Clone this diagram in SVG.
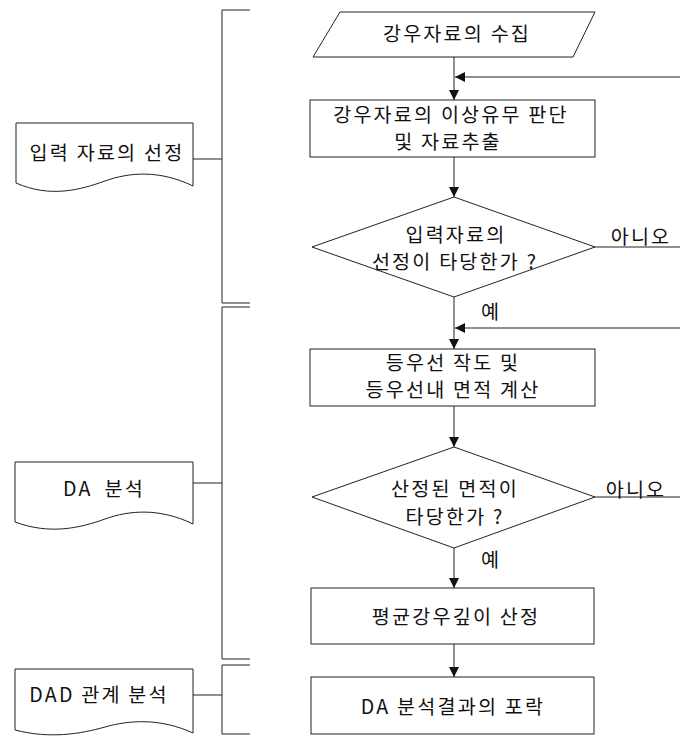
<svg xmlns="http://www.w3.org/2000/svg" width="680" height="738" viewBox="0 0 680 738">
<style>
.s{fill:#fff;stroke:#222;stroke-width:1}
.l{fill:none;stroke:#222;stroke-width:1}
.t{font-family:"Noto Sans CJK KR","Noto Sans",sans-serif;font-size:19.6px;fill:#111;text-anchor:middle;letter-spacing:2.2px}
</style>
<defs>
<marker id="ah" markerWidth="10" markerHeight="10" refX="10" refY="5" orient="auto" markerUnits="userSpaceOnUse">
<path d="M0,0 L10,5 L0,10 Z" fill="#111"/>
</marker>
</defs>
<rect width="680" height="738" fill="#fff"/>
<g id="connectors">
<line class="l" x1="454" y1="57" x2="454" y2="100" marker-end="url(#ah)"/>
<line class="l" x1="680" y1="77" x2="455" y2="77" marker-end="url(#ah)"/>
<line class="l" x1="454" y1="157" x2="454" y2="197" marker-end="url(#ah)"/>
<line class="l" x1="595" y1="247" x2="680" y2="247"/>
<line class="l" x1="454" y1="297" x2="454" y2="349" marker-end="url(#ah)"/>
<line class="l" x1="680" y1="328" x2="455" y2="328" marker-end="url(#ah)"/>
<line class="l" x1="454" y1="406" x2="454" y2="447" marker-end="url(#ah)"/>
<line class="l" x1="595" y1="497" x2="680" y2="497"/>
<line class="l" x1="454" y1="548" x2="454" y2="588" marker-end="url(#ah)"/>
<line class="l" x1="454" y1="644" x2="454" y2="677" marker-end="url(#ah)"/>
<path class="l" d="M250,10 H222 V303 H250"/>
<path class="l" d="M250,307 H222 V659 H250"/>
<path class="l" d="M250,665 H222 V734 H250"/>
<line class="l" x1="193" y1="159" x2="222" y2="159"/>
<line class="l" x1="193" y1="483" x2="222" y2="483"/>
<line class="l" x1="193" y1="695" x2="222" y2="695"/>
<text class="t" x="641" y="244">아니오</text>
<text class="t" x="491" y="319">예</text>
<text class="t" x="636" y="497">아니오</text>
<text class="t" x="491" y="567">예</text>
</g>
<g id="n_collect">
<polygon class="s" points="340,12 595,12 573,57 313,57"/>
<text class="t" x="457" y="41">강우자료의 수집</text>
</g>
<g id="n_check">
<rect class="s" x="310" y="100" width="285" height="57"/>
<text class="t" x="451" y="122">강우자료의 이상유무 판단</text>
<text class="t" x="448" y="149">및 자료추출</text>
</g>
<g id="n_dec1">
<polygon class="s" points="454,197 595,247 454,297 312,247"/>
<text class="t" x="456" y="242">입력자료의</text>
<text class="t" x="455" y="269">선정이 타당한가 ?</text>
</g>
<g id="n_isohyet">
<rect class="s" x="310" y="349" width="285" height="57"/>
<text class="t" x="453" y="370">등우선 작도 및</text>
<text class="t" x="453" y="397">등우선내 면적 계산</text>
</g>
<g id="n_dec2">
<polygon class="s" points="454,447 595,497 454,548 312,497"/>
<text class="t" x="455" y="496">산정된 면적이</text>
<text class="t" x="455" y="524">타당한가 ?</text>
</g>
<g id="n_mean">
<rect class="s" x="311" y="588" width="283" height="56"/>
<text class="t" x="456" y="624">평균강우깊이 산정</text>
</g>
<g id="n_env">
<rect class="s" x="311" y="677" width="283" height="57"/>
<text class="t" x="453" y="714">DA 분석결과의 포락</text>
</g>
<g id="d_input">
<path class="s" d="M16,123 H193 V186 C160,170 130,172 105,181 C80,190 50,198 16,183 Z"/>
<text class="t" x="107" y="160">입력 자료의 선정</text>
</g>
<g id="d_da">
<path class="s" d="M15,462 H193 V524 C160,508 130,510 105,519 C80,528 50,535 15,522 Z"/>
<text class="t" x="104" y="496">DA<tspan dx="12">분석</tspan></text>
</g>
<g id="d_dad">
<path class="s" d="M15,669 H193 V733 C160,718 130,720 105,727 C80,734 50,739 15,730 Z"/>
<text class="t" x="99" y="702">DAD 관계 분석</text>
</g>
</svg>
